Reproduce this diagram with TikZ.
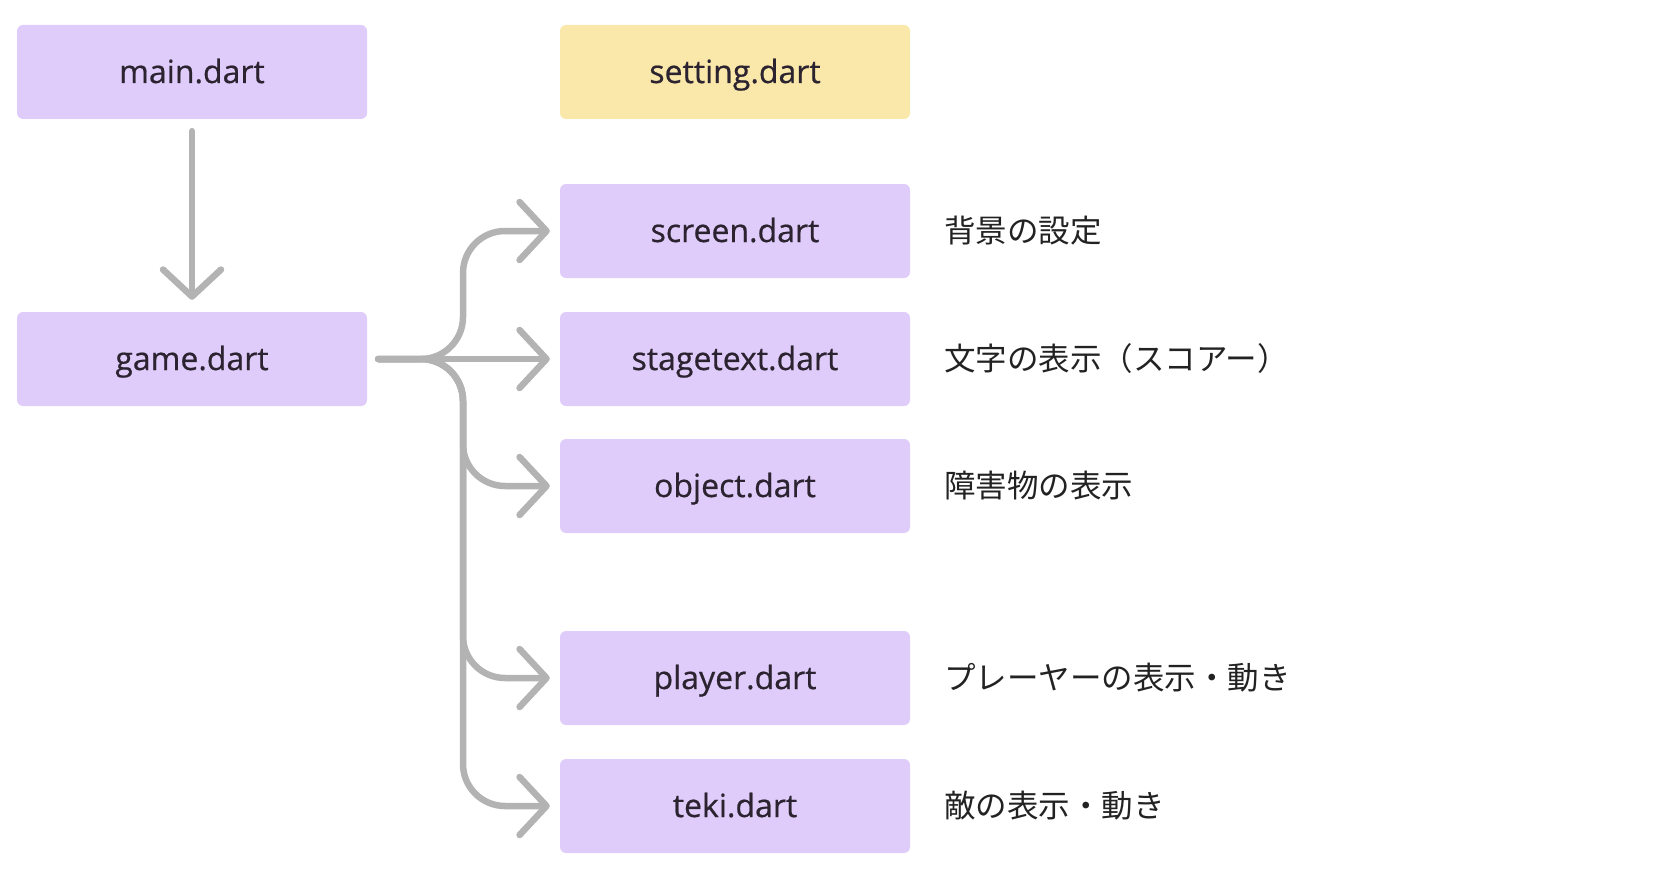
\documentclass[tikz,border=0pt]{standalone}
\usepackage{fontspec}
\setmainfont{Open Sans}[FakeBold=0.6]
\newfontfamily\cjk{Noto Sans CJK JP}
\usetikzlibrary{arrows.meta}
\definecolor{lav}{HTML}{E0CCFA}
\definecolor{yel}{HTML}{FAE8AA}
\definecolor{ink}{HTML}{2B2330}
\definecolor{lab}{HTML}{222222}
\definecolor{conn}{HTML}{B3B3B3}
\tikzset{
  filebox/.style={fill=lav, rounded corners=6pt, minimum width=350pt, minimum height=94pt,
    inner sep=0pt, text=ink, text height=23pt, text depth=1pt,
    font=\fontsize{32}{38}\selectfont},
  yfilebox/.style={filebox, fill=yel},
  note/.style={anchor=west, inner sep=0pt, text=lab, font=\cjk\fontsize{31.5}{36}\selectfont},
  conn/.style={draw=conn, line width=6.5pt, line cap=round, line join=round,
    -{Straight Barb[length=27pt,width=58pt,line cap=round,line join=round]}},
  branch/.style={conn, rounded corners=42pt}
}
\begin{document}
\begin{tikzpicture}[x=1pt,y=-1pt]
\useasboundingbox (0,0) rectangle (1680,880);
\node[filebox] (main) at (192,72) {main.dart};
\node[yfilebox] (setting) at (735,72) {setting.dart};
\node[filebox] (game) at (192,359) {game.dart};
\node[filebox] (screen) at (735,231) {screen.dart};
\node[filebox] (stage) at (735,359) {stagetext.dart};
\node[filebox] (object) at (735,486) {object.dart};
\node[filebox] (player) at (735,678) {player.dart};
\node[filebox] (teki) at (735,806) {teki.dart};
\node[note] (n1) at (944,231) {背景の設定};
\node[note] (n2) at (944,359) {文字の表示（スコアー）};
\node[note] (n3) at (944,486) {障害物の表示};
\node[note] (n4) at (944,678) {プレーヤーの表示・動き};
\node[note] (n5) at (944,806) {敵の表示・動き};
\coordinate (start) at ([xshift=11pt]game.east);
\draw[conn] ([yshift=-12pt]main.south) -- ([yshift=12pt]game.north);
\draw[conn] (start) -- ([xshift=-10pt]stage.west);
\draw[branch] (start) -- (463,359) -- (463,231) -- ([xshift=-10pt]screen.west);
\draw[branch] (start) -- (463,359) -- (463,486) -- ([xshift=-10pt]object.west);
\draw[branch] (start) -- (463,359) -- (463,678) -- ([xshift=-10pt]player.west);
\draw[branch] (start) -- (463,359) -- (463,806) -- ([xshift=-10pt]teki.west);
\end{tikzpicture}
\end{document}
